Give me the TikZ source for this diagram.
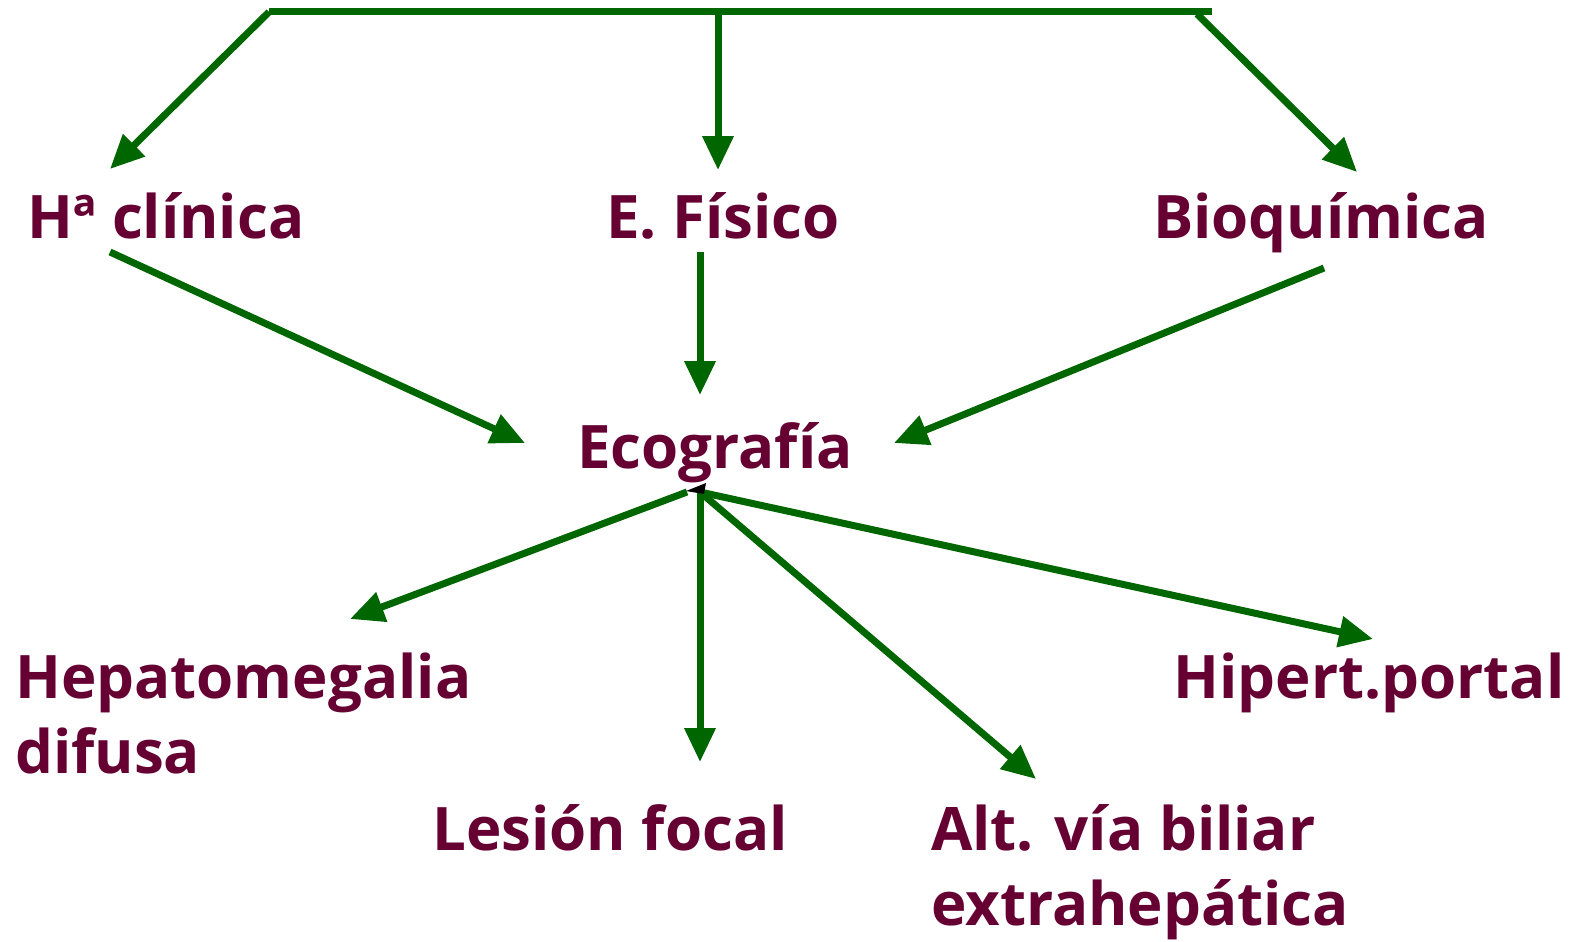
\documentclass[tikz,border=0pt]{standalone}
\usepackage{fontspec}
\setmainfont{Open Sans}
\usetikzlibrary{arrows.meta}
\definecolor{txt}{HTML}{660033}
\definecolor{grn}{HTML}{006600}
\begin{document}
\begin{tikzpicture}[x=1pt,y=-1pt,
  lbl/.style={text=txt,font=\fontsize{60}{75}\selectfont\bfseries,inner sep=0pt,anchor=base},
  arr/.style={draw=grn,line width=7pt,-{Triangle[length=34pt,width=30pt]}},
  ln/.style={draw=grn,line width=7pt}]
\useasboundingbox (0,0) rectangle (1590,942);
% labels
\node[lbl] (hc) at (166,238) {Hª clínica};
\node[lbl] (ef) at (723,238) {E. Físico};
\node[lbl] (bq) at (1321,238) {Bioquímica};
\node[lbl] (ec) at (715,468) {Ecografía};
\node[lbl,align=left,anchor=base west] (hd) at (15,773) {Hepatomegalia\\difusa};
\node[lbl] (lf) at (610,850) {Lesión focal};
\node[lbl,align=left,anchor=base west] (av) at (931,925) {Alt. vía biliar\\extrahepática};
\node[lbl] (hp) at (1369,698) {Hipert.portal};
% coordinates
\coordinate (tl) at (269,12);
\coordinate (tm) at (718,12);
\coordinate (tr) at (1212,12);
\coordinate (tr2) at (1197,14);
\coordinate (hcT) at (110,169);
\coordinate (efT) at (718,170);
\coordinate (bqT) at (1357,172);
\coordinate (hcS) at (110,252);
\coordinate (efS) at (700,252);
\coordinate (bqS) at (1324,268);
\coordinate (ecL) at (525,443);
\coordinate (ecT) at (700,395);
\coordinate (ecR) at (894,443);
\coordinate (eo1) at (687,492);
\coordinate (eo) at (700,492);
\coordinate (hdT) at (350,619);
\coordinate (lfT) at (700,762);
\coordinate (avT) at (1036,779);
\coordinate (hpT) at (1373,639);
% top bar
\draw[ln] (tl) -- (tr);
\draw[arr] (tl) -- (hcT);
\draw[arr] (tm) -- (efT);
\draw[arr] (tr2) -- (bqT);
% to Ecografia
\draw[arr] (hcS) -- (ecL);
\draw[arr] (efS) -- (ecT);
\draw[arr] (bqS) -- (ecR);
% from Ecografia
\draw[arr] (eo1) -- (hdT);
\draw[arr] (eo) -- (lfT);
\draw[arr] (eo) -- (avT);
\draw[arr] (eo) -- (hpT);
\fill[black] (686,491) -- (706,483) -- (704,494) -- cycle;
\end{tikzpicture}
\end{document}
